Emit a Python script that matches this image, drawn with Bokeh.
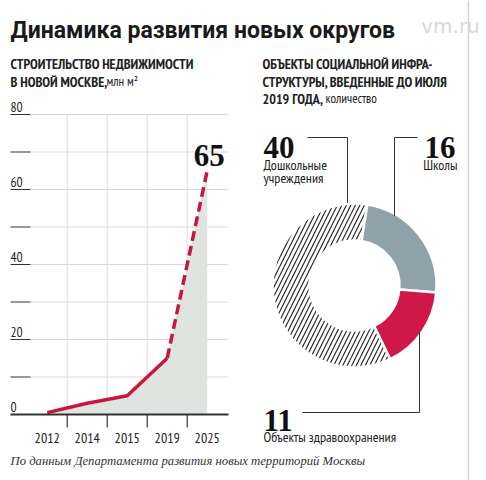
import math
from bokeh.plotting import figure
from bokeh.models import Range1d
from bokeh.core.properties import value
from bokeh.embed import file_html
from bokeh.resources import INLINE

# ---- data -------------------------------------------------------------
# Real estate construction in New Moscow, mln m² (2025 is the forecast)
years = ["2012", "2014", "2015", "2019", "2025"]
built = [0.5, 3, 5, 15, 65]
n_actual = 4  # 2012..2019 are actual figures

value_ticks = [0, 10, 20, 30, 40, 50, 60, 70, 80]
value_labels = ["0", "", "20", "", "40", "", "60", "", "80"]

# Social infrastructure commissioned before July 2019
facility_names = ["Дошкольные учреждения", "Школы", "Объекты здравоохранения"]
facility_counts = [40, 16, 11]

# ---- page geometry ----------------------------------------------------
W, H = 486, 480
COND = "PT Sans Narrow"
SERIF = "Liberation Serif"
TITLE_FONT = "Roboto"
RED = "#c8163c"
DONUT_RED = "#cf1748"
GREY = "#8fa2a9"
INK = "#222222"
GRID = "#d9d9d9"


def top(y):
    """page coordinate measured from the top edge"""
    return H - y


# category axis: first column centre and column step, in px
X0, DX = 46.7, 40.0
# value axis: baseline position from top and px per unit
BASE, PPU = 414.0, 3.75

p = figure(width=W, height=H, output_backend="svg", toolbar_location=None,
           x_range=Range1d(0, W), y_range=Range1d(0, H),
           min_border=0, outline_line_color=None,
           x_axis_location=None, y_axis_location=None,
           background_fill_color="white", border_fill_color="white")
p.grid.visible = False
p.extra_x_ranges = {"yr": Range1d(-X0 / DX, (W - X0) / DX)}
p.extra_y_ranges = {"val": Range1d(-(H - BASE) / PPU, BASE / PPU)}

idx = list(range(len(years)))


def txt(x, y, s, size, font=COND, style="normal", color=INK, align="left",
        baseline="alphabetic", **kw):
    p.text(x=[x], y=[y], text=[s], text_font=value(font), text_font_size=size,
           text_font_style=style, text_color=color, text_align=align,
           text_baseline=baseline, **kw)


# ---- header -----------------------------------------------------------
txt(10, top(29.5), "Динамика развития новых округов", "23px",
    font=TITLE_FONT, style="bold", color="#1a1a1a")
txt(450, top(25), "vm.ru", "20px", font="DejaVu Sans", color="#d9d9d9",
    align="center")
p.segment(x0=[468], y0=[0], x1=[468], y1=[H], line_color="#d4d4d4",
          line_width=1.5)

txt(10, top(63.5), "СТРОИТЕЛЬСТВО НЕДВИЖИМОСТИ", "14px", style="bold")
txt(10, top(81), "В НОВОЙ МОСКВЕ,", "14px", style="bold")
txt(106, top(81), "млн м²", "13px")

txt(262, top(63.5), "ОБЪЕКТЫ СОЦИАЛЬНОЙ ИНФРА-", "14px", style="bold")
txt(262, top(81), "СТРУКТУРЫ, ВВЕДЕННЫЕ ДО ИЮЛЯ", "14px", style="bold")
txt(262, top(98), "2019 ГОДА,", "14px", style="bold")
txt(325, top(98), "количество", "13px")

# ---- left chart: construction volume -----------------------------------
grid_vals = value_ticks[1:]
p.segment(x0=30, x1=228, y0=grid_vals, y1=grid_vals, y_range_name="val",
          line_color=GRID, line_width=1)
bounds = [i + 0.5 for i in idx[:-1]]
p.segment(x0=bounds, x1=bounds, y0=0, y1=value_ticks[-1],
          x_range_name="yr", y_range_name="val", line_color=GRID,
          line_width=1)

# area under the curve and the curve itself
p.varea(x=idx, y1=[0] * len(idx), y2=built, x_range_name="yr",
        y_range_name="val", fill_color="#dfe4e0")
p.line(idx[:n_actual], built[:n_actual], x_range_name="yr",
       y_range_name="val", line_color=RED, line_width=3.5,
       line_join="round")
p.line(idx[n_actual - 1:], built[n_actual - 1:], x_range_name="yr",
       y_range_name="val", line_color=RED, line_width=3.5,
       line_dash="10 5")

# axis strokes, tick stubs and labels
p.segment(x0=10, x1=30, y0=grid_vals, y1=grid_vals, y_range_name="val",
          line_color="#333333", line_width=1.2)
p.segment(x0=[10], x1=[228], y0=[0], y1=[0], y_range_name="val",
          line_color="#333333", line_width=2.2)
p.segment(x0=bounds, x1=bounds, y0=top(BASE), y1=top(BASE + 13),
          x_range_name="yr", line_color="#333333", line_width=1.2)
p.text(x=10, y=value_ticks, text=value_labels, y_range_name="val",
       y_offset=-3, text_font=value(COND), text_font_size="13.5px",
       text_color=INK, text_baseline="bottom", text_align="left")
p.text(x=idx, y=top(437), text=years, x_range_name="yr",
       text_font=value(COND), text_font_size="14px", text_color=INK,
       text_align="center", text_baseline="alphabetic")

# value of the last point
p.text(x=[idx[-1]], y=[built[-1]], text=[str(built[-1])],
       x_range_name="yr", y_range_name="val", x_offset=2, y_offset=-15,
       text_font=value(SERIF), text_font_style="bold",
       text_font_size="31px", text_color="#111111", text_align="center",
       text_baseline="alphabetic")

# ---- right chart: donut ---------------------------------------------------
CX, CY = 354.0, 285.0
R_IN, R_OUT = 45.0, 82.0
total = sum(facility_counts)
# schools start just right of twelve o'clock, slices run clockwise
start = math.radians(81) + facility_counts[0] / total * 2 * math.pi
starts, ends = [], []
a = start
for c in facility_counts:
    starts.append(a)
    a -= c / total * 2 * math.pi
    ends.append(a)

p.annular_wedge(x=CX, y=top(CY), inner_radius=R_IN, outer_radius=R_OUT,
                start_angle=starts[0], end_angle=ends[0], direction="clock",
                fill_color="white", hatch_pattern="/", hatch_color="#2a2a2a",
                hatch_scale=9, hatch_weight=1.2, line_color="white",
                line_width=2.5)
p.annular_wedge(x=CX, y=top(CY), inner_radius=R_IN, outer_radius=R_OUT,
                start_angle=starts[1:], end_angle=ends[1:], direction="clock",
                fill_color=[GREY, DONUT_RED], line_color="white",
                line_width=2.5)


def rim(x, lower=False, inset=0.0):
    d = math.sqrt(R_OUT ** 2 - (x - CX) ** 2) - inset
    return top(CY + d) if lower else top(CY - d)


leaders_x = [[307, 347, 347], [417, 394, 394], [302, 419, 419]]
leaders_y = [[top(137), top(137), rim(347, inset=-1)],
             [top(137), top(137), rim(394, inset=2)],
             [top(412), top(412), rim(419, lower=True, inset=3)]]
p.multi_line(xs=leaders_x, ys=leaders_y, line_color="#333333",
             line_width=1)

NUM_SIZE = "31px"
txt(263, top(147), str(facility_counts[0]), NUM_SIZE, font=SERIF,
    style="bold", color="#111111")
txt(263, top(164), "Дошкольные", "14px")
txt(263, top(177.5), "учреждения", "14px")

txt(455, top(147), str(facility_counts[1]), NUM_SIZE, font=SERIF,
    style="bold", color="#111111", align="right")
txt(457, top(164), facility_names[1], "14px", align="right")

txt(263, top(419.5), str(facility_counts[2]), NUM_SIZE, font=SERIF,
    style="bold", color="#111111")
txt(263, top(436), facility_names[2], "14px")

# ---- source ------------------------------------------------------------------
txt(10, top(460.5), "По данным Департамента развития новых территорий Москвы",
    "12.7px", font=SERIF, style="italic", color="#333333")

open("out.html", "w").write(file_html(p, INLINE))
